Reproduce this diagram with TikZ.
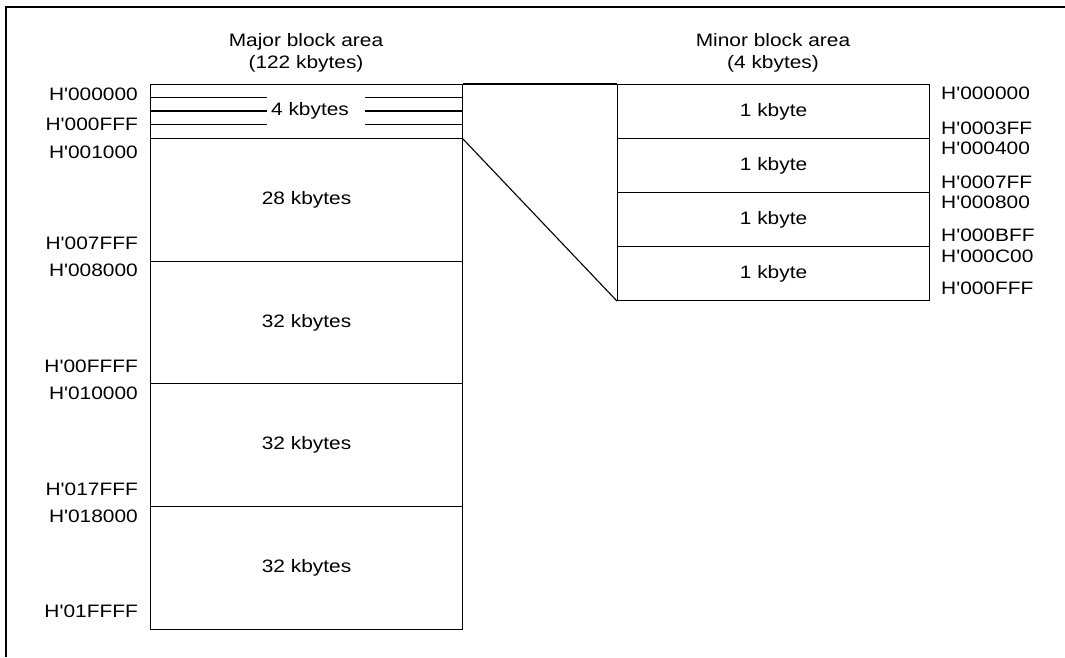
\documentclass[tikz,border=0pt]{standalone}
\usepackage{fontspec}
\setmainfont{Liberation Sans}[FakeStretch=1.16, Ligatures=TeXOff]
\begin{document}
\begin{tikzpicture}[x=1pt,y=-1pt,
  every node/.style={font=\fontsize{18}{22}\selectfont, inner sep=0pt},
  blk/.style={draw, line width=1.1pt, minimum width=312pt, anchor=north west},
  addr/.style={anchor=east},
  raddr/.style={anchor=west},
  thin/.style={line width=1.1pt},
  frame/.style={line width=2pt}]
\useasboundingbox (0,0) rectangle (1065,657);
% frame
\draw[frame] (5.5,657) -- (5.5,6.5) -- (1065,6.5);
% titles
\node[align=center] (tmaj) at (306,53) {Major block area\\(122 kbytes)};
\node[align=center] (tmin) at (773,53) {Minor block area\\(4 kbytes)};
% major blocks
\node[blk, minimum height=54pt] (b4) at (150,84) {};
\node (t4) at (310,111) {4 kbytes};
\node[blk, minimum height=123pt] (b28) at (150,138) {28 kbytes};
\node[blk, minimum height=122pt] (b32a) at (150,261) {32 kbytes};
\node[blk, minimum height=123pt] (b32b) at (150,383) {32 kbytes};
\node[blk, minimum height=123pt] (b32c) at (150,506) {32 kbytes};
% inner lines of 4 kbytes block
\foreach \yy in {97.5,111,124.5}{
  \draw[thin] (150,\yy) -- (267,\yy);
  \draw[thin] (365,\yy) -- (462,\yy);
}
% minor blocks
\node[blk, minimum height=54pt] (m1) at (617,84) {1 kbyte};
\node[blk, minimum height=54pt] (m2) at (617,138) {1 kbyte};
\node[blk, minimum height=54pt] (m3) at (617,192) {1 kbyte};
\node[blk, minimum height=54pt] (m4) at (617,246) {1 kbyte};
% connectors
\draw[thin] (b4.north east) -- (m1.north west);
\draw[thin] (b4.south east) -- (m4.south west);
% left addresses
\node[addr] (a1) at (138,94) {H'000000};
\node[addr] (a2) at (138,124) {H'000FFF};
\node[addr] (a3) at (138,152) {H'001000};
\node[addr] (a4) at (138,243) {H'007FFF};
\node[addr] (a5) at (138,270) {H'008000};
\node[addr] (a6) at (138,366) {H'00FFFF};
\node[addr] (a7) at (138,393) {H'010000};
\node[addr] (a8) at (138,489) {H'017FFF};
\node[addr] (a9) at (138,516) {H'018000};
\node[addr] (a10) at (138,611) {H'01FFFF};
% right addresses
\node[raddr] (r1) at (941,93) {H'000000};
\node[raddr] (r2) at (941,128) {H'0003FF};
\node[raddr] (r3) at (941,148) {H'000400};
\node[raddr] (r4) at (941,182) {H'0007FF};
\node[raddr] (r5) at (941,202) {H'000800};
\node[raddr] (r6) at (941,235) {H'000BFF};
\node[raddr] (r7) at (941,256) {H'000C00};
\node[raddr] (r8) at (941,288) {H'000FFF};
\end{tikzpicture}
\end{document}
